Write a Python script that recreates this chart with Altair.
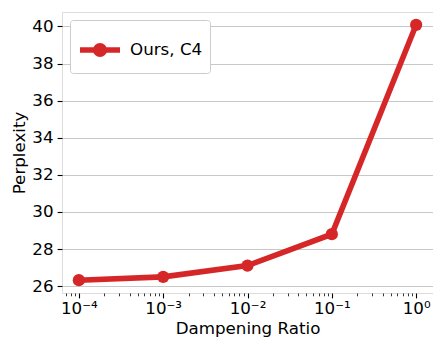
import altair as alt
import pandas as pd

ratios = [1e-4, 1e-3, 1e-2, 1e-1, 1.0]
perplexity = [26.32, 26.5, 27.11, 28.8, 40.09]
series = ["Ours, C4"] * 5
major_ticks = [1e-4, 1e-3, 1e-2, 1e-1, 1.0]
tick_labels = ["10⁻⁴", "10⁻³", "10⁻²", "10⁻¹", "10⁰"]
minor_ticks = [m * 10.0 ** k for k in range(-5, 1) for m in range(2, 10)]
y_ticks = [26, 28, 30, 32, 34, 36, 38, 40]

df = pd.DataFrame({"ratio": ratios, "ppl": perplexity, "series": series})

RED = "#d62728"
FONT = "DejaVu Sans"
FS = 16.7

all_x_ticks = [v for v in sorted(major_ticks + minor_ticks) if 10 ** -4.2 <= v <= 10 ** 0.2]
lab_arr = "[" + ",".join("'%s'" % t for t in tick_labels) + "]"
is_minor = "abs(log(datum.value)/LN10 - round(log(datum.value)/LN10)) > 0.01"

x_scale = alt.Scale(type="log", domain=[10 ** -4.2, 10 ** 0.2], nice=False)
y_scale = alt.Scale(domain=[25.63, 40.78], nice=False, zero=False)

x_axis = alt.Axis(
    values=all_x_ticks,
    labelExpr="(" + is_minor + ") ? '' : " + lab_arr + "[round(log(datum.value)/LN10)+4]",
    tickSize={"condition": {"test": is_minor, "value": 2.8}, "value": 4.9},
    tickWidth={"condition": {"test": is_minor, "value": 0.8}, "value": 1.1},
    tickColor="#000000",
    grid=False,
    domain=False,
    labelFontSize=FS,
    labelFont=FONT,
    labelColor="#000000",
    labelPadding=3,
    labelOverlap=False,
    labelFlush=False,
    title="Dampening Ratio",
    titleFontSize=FS,
    titleFont=FONT,
    titleFontWeight="normal",
    titleColor="#000000",
    titlePadding=3,
)

y_axis = alt.Axis(
    values=y_ticks,
    tickSize=4.9,
    tickWidth=1.1,
    tickColor="#000000",
    grid=True,
    gridColor="#c8c8c8",
    gridWidth=1.1,
    domain=False,
    labelFontSize=FS,
    labelFont=FONT,
    labelColor="#000000",
    labelPadding=4,
    title="Perplexity",
    titleFontSize=FS,
    titleFont=FONT,
    titleFontWeight="normal",
    titleColor="#000000",
    titlePadding=3,
)

base = alt.Chart(df)

line = base.mark_line(color=RED, strokeWidth=5.6).encode(
    x=alt.X("ratio:Q", scale=x_scale, axis=x_axis),
    y=alt.Y("ppl:Q", scale=y_scale, axis=y_axis),
)

legend_path = "M-1,0L1,0M0.21,0A0.21,0.21,0,1,1,-0.21,0A0.21,0.21,0,1,1,0.21,0Z"

points = base.mark_point(filled=True, size=150, opacity=1).encode(
    x=alt.X("ratio:Q", scale=x_scale),
    y=alt.Y("ppl:Q", scale=y_scale),
    color=alt.Color(
        "series:N",
        scale=alt.Scale(range=[RED]),
        legend=alt.Legend(
            title=None,
            orient="top-left",
            offset=8,
            padding=7,
            strokeColor="#cccccc",
            fillColor="#ffffff",
            cornerRadius=3,
            symbolType=legend_path,
            symbolSize=1600,
            symbolStrokeWidth=5.6,
            symbolStrokeColor=RED,
            symbolFillColor=RED,
            symbolOpacity=1,
            labelFontSize=FS,
            labelFont=FONT,
            labelColor="#000000",
            labelOffset=7,
        ),
    ),
)

chart = (
    alt.layer(line, points)
    .properties(
        width=371,
        height=281,
        autosize=alt.AutoSizeParams(type="none"),
        padding={"left": 54, "top": 4, "right": 0, "bottom": 44},
    )
    .configure_view(stroke="#000000", strokeWidth=1.1)
    .configure(background="#ffffff")
)

chart.save("out.html", embed_options={"renderer": "svg", "actions": False})
